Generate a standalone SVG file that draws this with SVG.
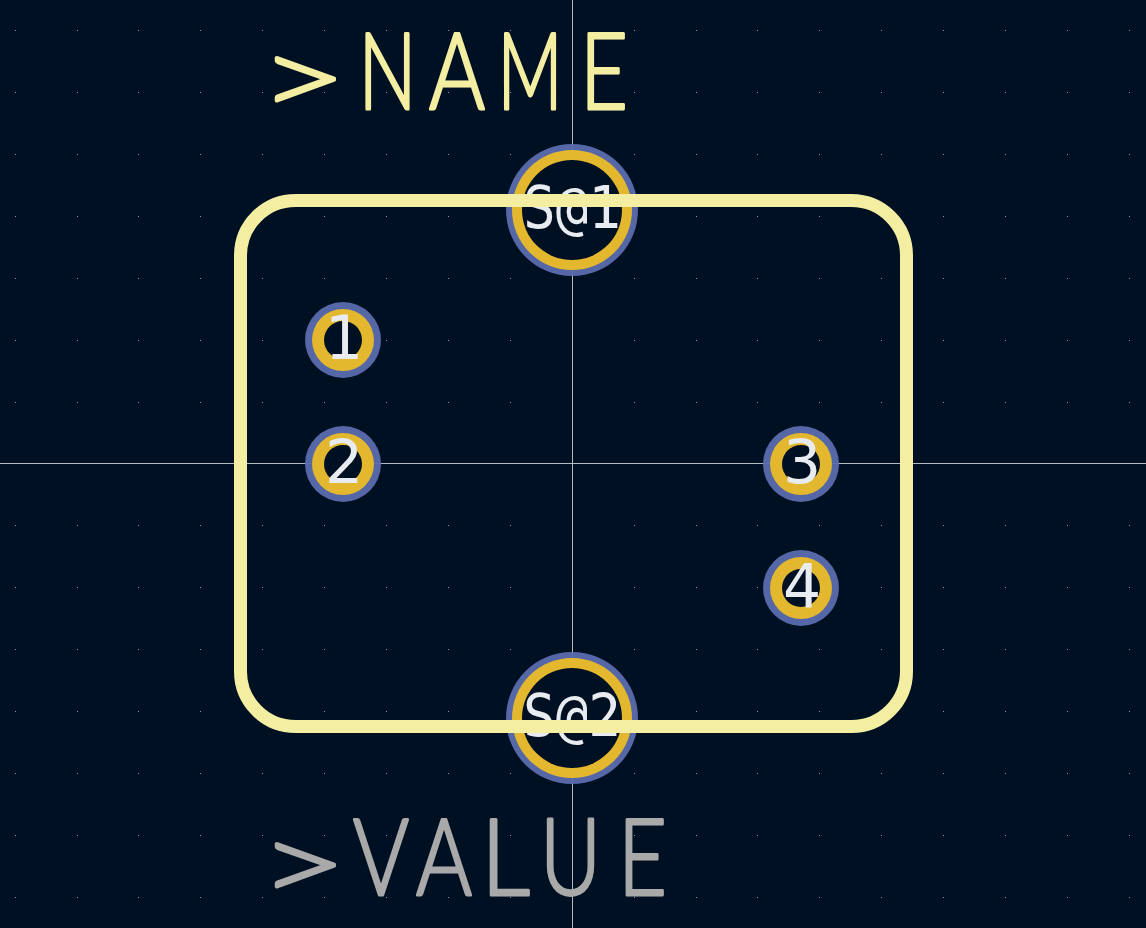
<svg xmlns="http://www.w3.org/2000/svg" width="1146" height="928" viewBox="0 0 1146 928">
<style>
.bg{fill:#001023}
.hair{fill:#b4bac2}
.dot{fill:#8a94a0}
.blue{fill:#5a6cae;fill-opacity:.94}
.gold{fill:#e3b72e}
.hole{fill:#001023}
.num{font-family:"DejaVu Sans",sans-serif;font-size:60px;fill:#e8ebef;text-anchor:middle}
.sn{font-family:"DejaVu Sans Mono",monospace;font-size:59px;fill:#e8ebef}
.silk{fill:none;stroke:#f3eea2;stroke-width:13}
.ref{font-family:"Lato",sans-serif;font-weight:300;font-size:106px;stroke-width:3;stroke-linejoin:round}
.name{fill:#f3eea2;stroke:#f3eea2}
.val{fill:#a9a9a9;stroke:#a9a9a9}
</style>
<defs>
<path id="row" d="M15 0h1v1h-1zM77 0h1v1h-1zM138 0h1v1h-1zM200 0h1v1h-1zM262 0h1v1h-1zM324 0h1v1h-1zM386 0h1v1h-1zM448 0h1v1h-1zM510 0h1v1h-1zM572 0h1v1h-1zM634 0h1v1h-1zM696 0h1v1h-1zM757 0h1v1h-1zM819 0h1v1h-1zM881 0h1v1h-1zM943 0h1v1h-1zM1005 0h1v1h-1zM1067 0h1v1h-1zM1129 0h1v1h-1z"/>
</defs>
<rect class="bg" width="1146" height="928"/>
<g id="grid" class="dot">
<use href="#row" y="30"/><use href="#row" y="92"/><use href="#row" y="154"/><use href="#row" y="216"/><use href="#row" y="278"/><use href="#row" y="340"/><use href="#row" y="402"/><use href="#row" y="525"/><use href="#row" y="587"/><use href="#row" y="649"/><use href="#row" y="711"/><use href="#row" y="773"/><use href="#row" y="835"/><use href="#row" y="897"/>
</g>
<g id="crosshair" class="hair">
<rect x="572" y="0" width="1" height="928"/>
<rect x="0" y="463" width="1146" height="1"/>
</g>
<g id="pad-S1"><circle class="blue" cx="572" cy="210" r="66"/><circle class="gold" cx="572" cy="210" r="60"/><circle class="hole" cx="572" cy="210" r="50"/><text class="sn" x="523" y="228" textLength="98" lengthAdjust="spacingAndGlyphs">S@1</text></g>
<g id="pad-S2"><circle class="blue" cx="572" cy="718" r="66"/><circle class="gold" cx="572" cy="718" r="60"/><circle class="hole" cx="572" cy="718" r="50"/><text class="sn" x="523" y="736" textLength="98" lengthAdjust="spacingAndGlyphs">S@2</text></g>
<g id="pad-1"><circle class="blue" cx="343" cy="340" r="38"/><circle class="gold" cx="343" cy="340" r="31"/><circle class="hole" cx="343" cy="340" r="19"/><text class="num" x="344" y="359">1</text></g>
<g id="pad-2"><circle class="blue" cx="343" cy="464" r="38"/><circle class="gold" cx="343" cy="464" r="31"/><circle class="hole" cx="343" cy="464" r="19"/><text class="num" x="344" y="483">2</text></g>
<g id="pad-3"><circle class="blue" cx="801" cy="464" r="38"/><circle class="gold" cx="801" cy="464" r="31"/><circle class="hole" cx="801" cy="464" r="19"/><text class="num" x="802" y="483">3</text></g>
<g id="pad-4"><circle class="blue" cx="801" cy="588" r="38"/><circle class="gold" cx="801" cy="588" r="31"/><circle class="hole" cx="801" cy="588" r="19"/><text class="num" x="802" y="607">4</text></g>
<g id="outline"><rect class="silk" x="240.500" y="200.500" width="666" height="526" rx="55" ry="55"/></g>
<g id="label-name"><text class="ref name" y="109"><tspan x="259" y="115" textLength="88" lengthAdjust="spacingAndGlyphs">&gt;</tspan><tspan x="358.500" y="109" textLength="58" lengthAdjust="spacingAndGlyphs">N</tspan><tspan x="429" textLength="56" lengthAdjust="spacingAndGlyphs">A</tspan><tspan x="497.500" textLength="65" lengthAdjust="spacingAndGlyphs">M</tspan><tspan x="580" textLength="48" lengthAdjust="spacingAndGlyphs">E</tspan></text></g>
<g id="label-value"><text class="ref val" y="895"><tspan x="259" y="901" textLength="88" lengthAdjust="spacingAndGlyphs">&gt;</tspan><tspan x="353" y="895" textLength="56" lengthAdjust="spacingAndGlyphs">V</tspan><tspan x="416" textLength="56" lengthAdjust="spacingAndGlyphs">A</tspan><tspan x="481" textLength="49" lengthAdjust="spacingAndGlyphs">L</tspan><tspan x="540" textLength="61" lengthAdjust="spacingAndGlyphs">U</tspan><tspan x="618" textLength="49" lengthAdjust="spacingAndGlyphs">E</tspan></text></g>
</svg>
